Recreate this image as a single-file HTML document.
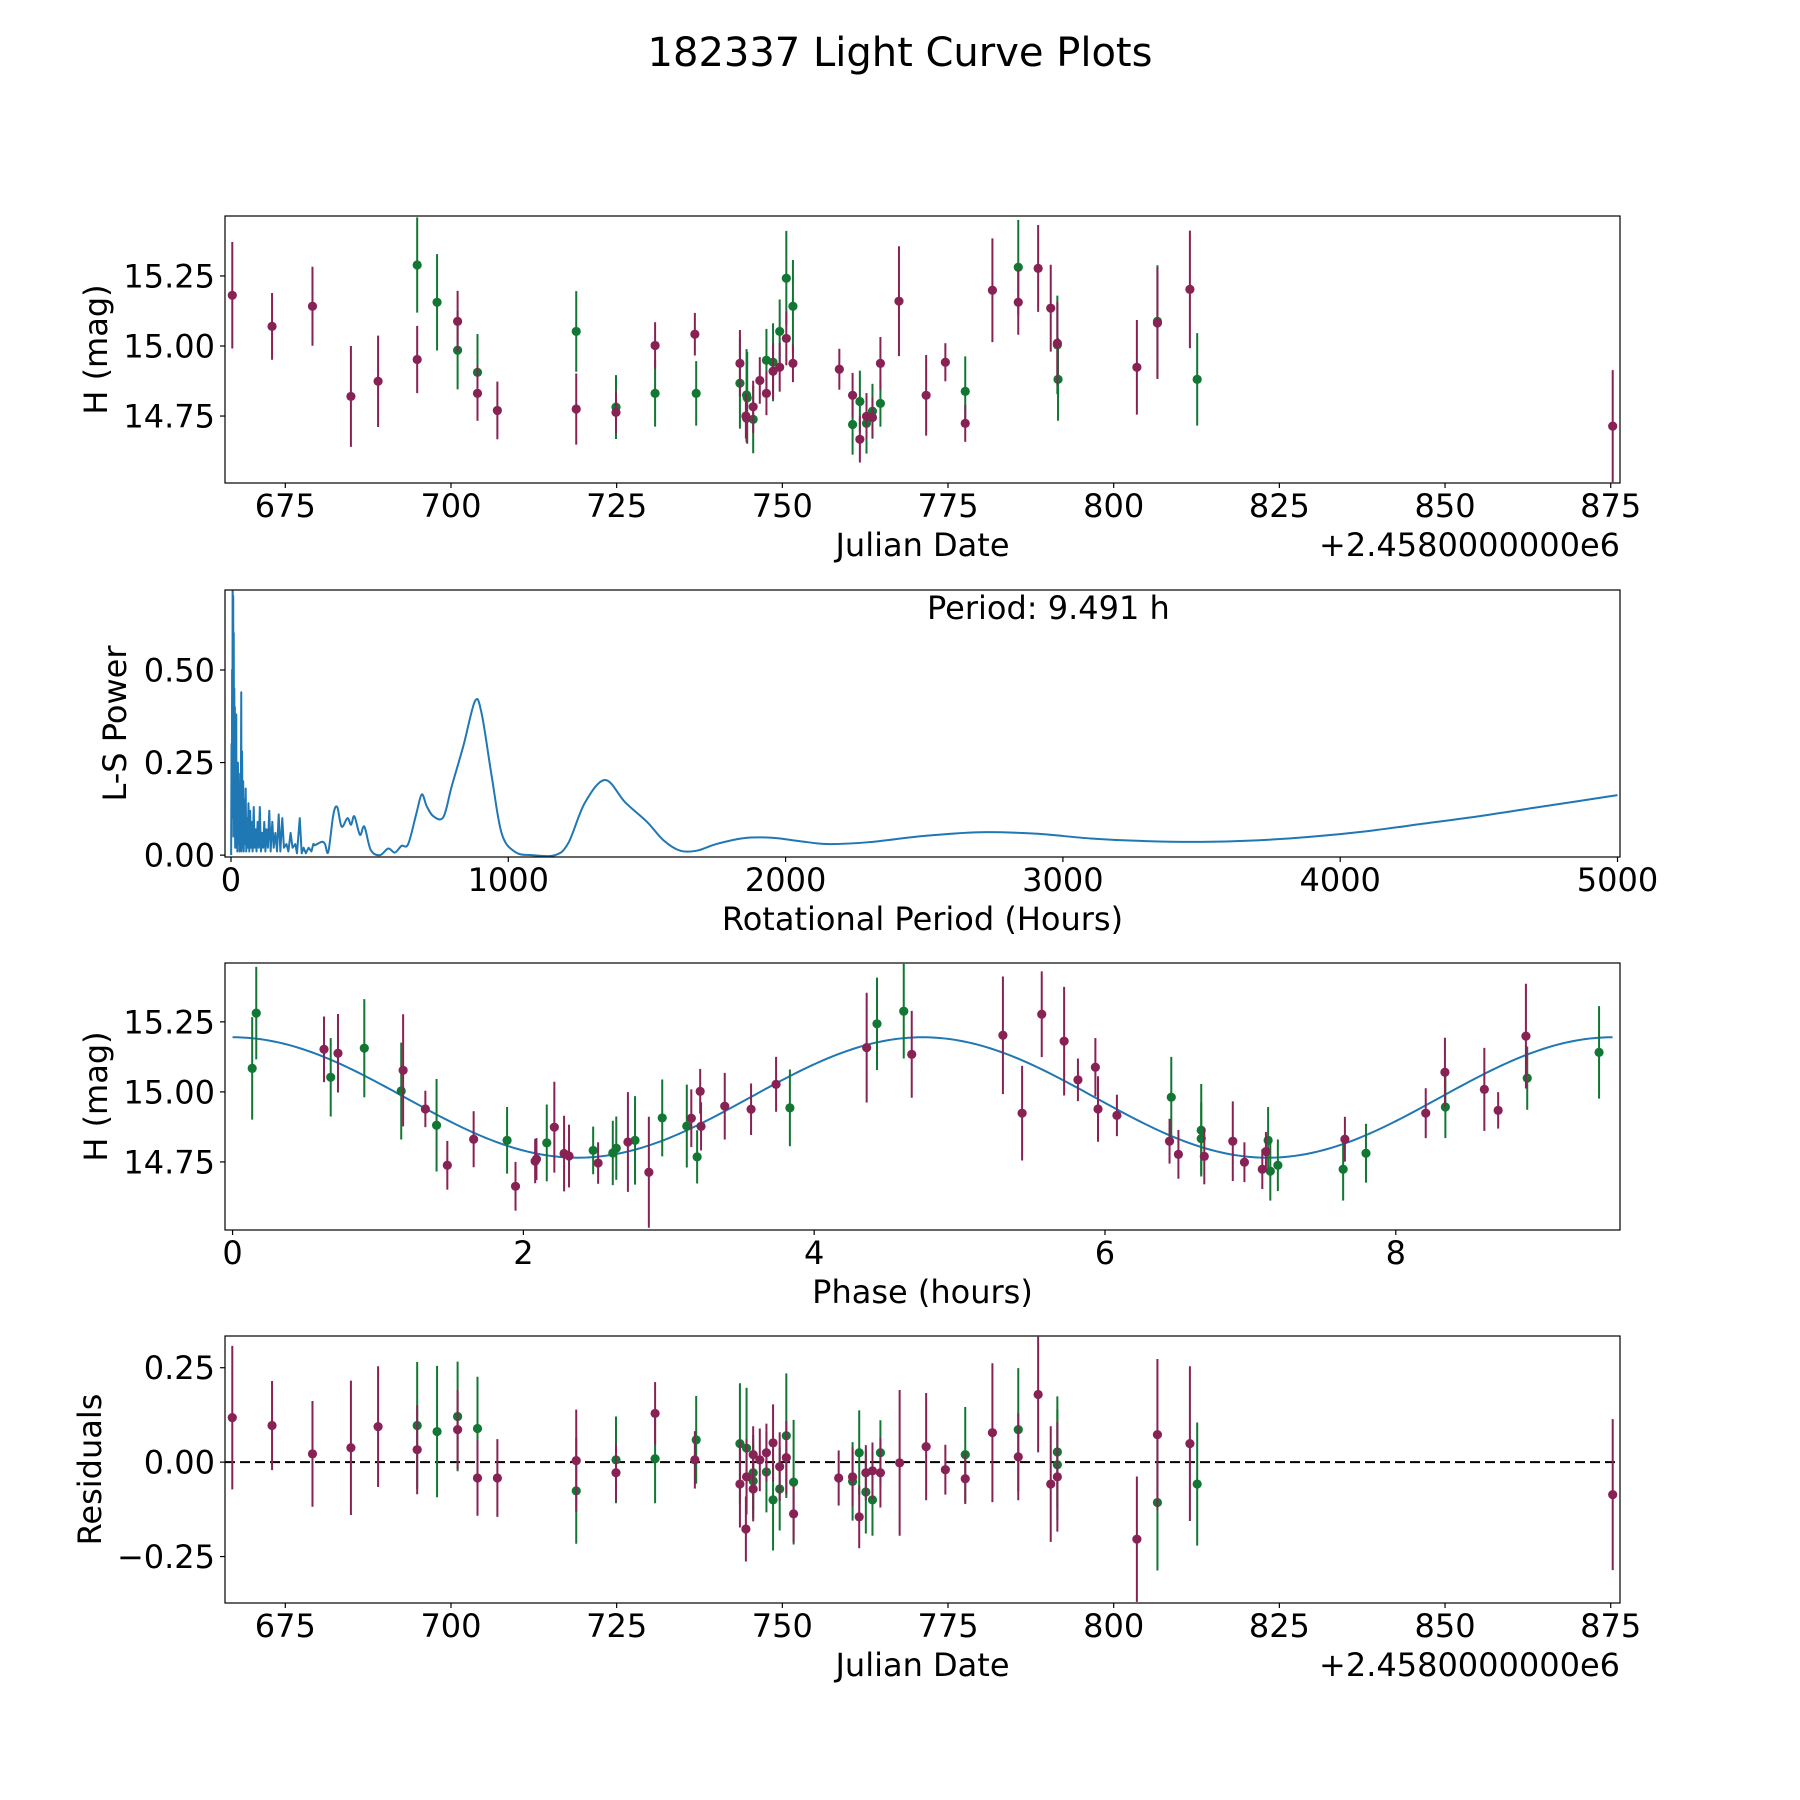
<!DOCTYPE html>
<html><head><meta charset="utf-8"><title>182337 Light Curve Plots</title>
<style>
html,body{margin:0;padding:0;background:#fff;}
svg{display:block;font-family:"DejaVu Sans","Liberation Sans",sans-serif;}
</style></head>
<body>
<svg id="fig" width="1800" height="1800" viewBox="0 0 1800 1800" xmlns="http://www.w3.org/2000/svg">
<rect width="1800" height="1800" fill="#fff"/>
<text x="900" y="66" font-size="40" text-anchor="middle">182337 Light Curve Plots</text>
</svg>
<script>
// ---------- Panel 1: light curve (JD offset, H mag, error, band) ----------
const p1Jd   = [667.0,673.0,679.1,684.9,689.0,694.9,694.9,697.9,701.0,701.0,704.0,704.0,707.0,718.9,718.9,724.9,724.9,730.8,730.8,736.8,737.0,743.6,743.6,744.6,744.7,744.6,744.5,745.6,745.6,746.6,747.6,747.6,748.6,748.6,749.6,749.6,750.6,750.6,751.6,751.6,758.6,760.6,760.6,761.7,761.7,762.7,762.7,763.6,763.6,764.8,764.8,767.6,771.7,774.6,777.6,777.6,781.7,785.6,785.6,788.6,790.5,791.5,791.5,791.6,803.5,806.6,806.6,811.5,812.6,875.3];
const p1Mag  = [15.181,15.07,15.142,14.82,14.874,15.289,14.952,15.156,15.088,14.985,14.906,14.831,14.77,15.052,14.775,14.782,14.763,15.002,14.831,15.042,14.831,14.938,14.867,14.825,14.815,14.742,14.75,14.783,14.738,14.877,14.949,14.831,14.942,14.91,15.052,14.924,15.242,15.027,15.142,14.938,14.917,14.824,14.72,14.802,14.667,14.749,14.724,14.767,14.745,14.938,14.795,15.16,14.824,14.942,14.838,14.724,15.199,15.281,15.156,15.277,15.135,15.004,15.01,14.881,14.924,15.088,15.082,15.202,14.881,14.714];
const p1Err  = [0.19,0.119,0.141,0.18,0.163,0.17,0.12,0.172,0.109,0.14,0.137,0.098,0.103,0.144,0.127,0.114,0.073,0.083,0.119,0.076,0.115,0.119,0.162,0.164,0.164,0.086,0.08,0.093,0.121,0.083,0.112,0.078,0.139,0.1,0.114,0.087,0.169,0.096,0.165,0.067,0.073,0.08,0.108,0.11,0.083,0.08,0.108,0.098,0.073,0.094,0.083,0.196,0.144,0.068,0.125,0.066,0.185,0.169,0.116,0.155,0.155,0.176,0.148,0.148,0.169,0.2,0.2,0.21,0.165,0.2];
const p1Band = ["m","m","m","m","m","g","m","g","m","g","g","m","m","g","m","g","m","m","g","m","g","m","g","g","g","m","m","m","g","m","g","m","g","m","g","m","g","m","g","m","m","m","g","g","m","m","g","g","m","m","g","m","m","m","g","m","m","g","m","m","m","g","m","g","m","g","m","m","g","m"];
const p1XTicks = [675,700,725,750,775,800,825,850,875];
const p1YTicks = [14.75,15.00,15.25];
const p1YTickLabels = ["14.75","15.00","15.25"];

// ---------- Panel 2: Lomb-Scargle periodogram ----------
const lsPeriod = [0.5,2,3,4,5,6,7,8,9,10,11,12,13,14,15,16,17,19,20,22,23,25,27,29,31,33,35,37,38,40,42,44,46,48,50,53,55,58,60,63,66,69,72,75,78,82,85,89,92,96,100,104,108,112,116,120,124,128,133,138,143,149,154,160,166,172,178,185,191,200,207,215,222,232,238,248,255,262,270,280,290,297,303,327,339,351,369,383,399,420,433,445,465,481,504,537,567,591,615,639,669,688,706,730,766,796,838,880,904,940,976,1024,1084,1168,1216,1276,1349,1421,1500,1560,1620,1680,1750,1850,1950,2050,2150,2300,2500,2700,2900,3100,3300,3500,3700,3900,4100,4300,4500,4700,4850,5000];
const lsPower  = [0,0.3,0.05,0.5,0.1,0.85,0.2,0.7,0.1,0.6,0.05,0.45,0.1,0.4,0.02,0.3,0.05,0.38,0.02,0.2,0.01,0.25,0.03,0.17,0.01,0.22,0.02,0.44,0.01,0.28,0.02,0.2,0.01,0.15,0.03,0.18,0.01,0.1,0.02,0.14,0.01,0.12,0.02,0.09,0.01,0.13,0.02,0.07,0.01,0.09,0.02,0.13,0.01,0.06,0.02,0.09,0.01,0.07,0.02,0.12,0.01,0.09,0.02,0.06,0.01,0.11,0.01,0.1,0.02,0.03,0.01,0.06,0.02,0.03,0.005,0.1,0.005,0.02,0.005,0.02,0.01,0.03,0.027,0.036,0.03,0.009,0.109,0.13,0.077,0.1,0.082,0.105,0.055,0.077,0.014,0,0.018,0.007,0.025,0.03,0.114,0.164,0.132,0.105,0.103,0.186,0.295,0.416,0.382,0.214,0.059,0.009,0,0,0.032,0.141,0.203,0.143,0.09,0.04,0.012,0.012,0.03,0.046,0.047,0.038,0.03,0.035,0.052,0.062,0.058,0.045,0.038,0.036,0.04,0.05,0.065,0.085,0.105,0.128,0.145,0.162];
const p2XTicks = [0,1000,2000,3000,4000,5000];
const p2YTicks = [0,0.25,0.5];
const p2YTickLabels = ["0.00","0.25","0.50"];

// ---------- Panel 3: phased light curve ----------
const p3Phase = [0.135,0.163,0.629,0.675,0.725,0.906,1.16,1.173,1.326,1.403,1.477,1.658,1.888,1.946,2.081,2.09,2.161,2.213,2.28,2.314,2.48,2.514,2.615,2.639,2.719,2.768,2.863,2.955,3.124,3.155,3.195,3.216,3.222,3.385,3.566,3.738,3.833,4.361,4.432,4.616,4.671,5.298,5.43,5.565,5.719,5.814,5.934,5.952,6.082,6.456,6.444,6.505,6.662,6.662,6.683,6.879,6.959,7.082,7.107,7.122,7.137,7.189,7.65,7.638,7.795,8.206,8.338,8.341,8.609,8.704,8.895,8.904,9.398];
const p3Mag   = [15.084,15.281,15.152,15.052,15.138,15.156,15.003,15.077,14.939,14.881,14.738,14.831,14.827,14.663,14.753,14.76,14.818,14.874,14.78,14.771,14.791,14.746,14.782,14.799,14.821,14.827,14.713,14.907,14.878,14.906,14.768,15.002,14.877,14.949,14.938,15.027,14.943,15.158,15.243,15.288,15.134,15.202,14.924,15.277,15.181,15.043,15.088,14.939,14.916,14.981,14.824,14.777,14.863,14.833,14.77,14.824,14.749,14.724,14.787,14.827,14.717,14.738,14.831,14.724,14.781,14.924,15.07,14.946,15.009,14.934,15.199,15.049,15.141];
const p3Err   = [0.183,0.165,0.117,0.14,0.14,0.175,0.173,0.2,0.065,0.165,0.087,0.1,0.119,0.087,0.079,0.075,0.137,0.162,0.135,0.112,0.085,0.074,0.115,0.113,0.178,0.158,0.198,0.137,0.148,0.103,0.095,0.08,0.086,0.119,0.092,0.098,0.137,0.196,0.165,0.169,0.155,0.21,0.169,0.153,0.194,0.076,0.104,0.117,0.074,0.144,0.08,0.087,0.165,0.129,0.1,0.142,0.071,0.071,0.07,0.119,0.105,0.092,0.08,0.112,0.105,0.089,0.123,0.111,0.148,0.065,0.187,0.113,0.165];
const p3Band  = ["g","g","m","g","m","g","g","m","m","g","m","m","g","m","m","m","g","m","m","m","g","m","g","g","m","g","m","g","g","m","g","m","m","m","m","m","g","m","g","g","m","m","m","m","m","m","m","m","m","g","m","m","g","g","m","m","m","m","m","g","g","g","m","g","g","m","m","g","m","m","m","g","g"];
const fitParams = [14.98, 0.215, 9.491]; // mean mag, amplitude, rotational period (h)
const p3XTicks = [0,2,4,6,8];
const p3YTicks = [14.75,15.00,15.25];
const p3YTickLabels = ["14.75","15.00","15.25"];

// ---------- Panel 4: residuals ----------
const p4Jd   = [667.0,673.0,679.1,684.9,689.0,694.9,694.9,697.9,701.0,701.0,704.0,704.0,707.0,718.9,718.9,724.9,724.9,730.8,730.8,737.0,736.8,743.6,743.6,744.6,744.6,744.5,745.6,745.6,745.6,745.6,746.6,747.6,747.6,748.6,748.6,749.6,749.6,750.6,750.6,751.7,751.7,758.5,760.6,760.6,761.6,761.6,762.6,762.6,763.6,763.6,764.8,764.8,767.7,771.7,774.6,777.6,777.6,781.7,785.6,785.6,788.6,790.5,791.5,791.5,791.5,803.5,806.6,806.6,811.5,812.6,875.3];
const p4Res  = [0.118,0.097,0.022,0.038,0.094,0.097,0.033,0.081,0.121,0.086,0.089,-0.042,-0.042,0.004,-0.076,0.006,-0.028,0.129,0.009,0.059,0.006,0.049,-0.058,0.037,-0.039,-0.177,0.02,-0.028,-0.05,-0.071,0.006,0.025,-0.026,0.051,-0.1,-0.012,-0.071,0.07,0.012,-0.053,-0.137,-0.042,-0.039,-0.051,0.025,-0.145,-0.028,-0.079,-0.023,-0.1,0.025,-0.028,-0.002,0.041,-0.02,0.02,-0.044,0.078,0.086,0.014,0.179,-0.058,0.027,-0.007,-0.039,-0.204,0.073,-0.107,0.049,-0.058,-0.086];
const p4Err  = [0.19,0.118,0.14,0.178,0.16,0.168,0.118,0.174,0.145,0.105,0.137,0.1,0.103,0.135,0.14,0.115,0.077,0.083,0.118,0.116,0.076,0.16,0.115,0.16,0.1,0.086,0.075,0.1,0.1,0.086,0.083,0.077,0.107,0.102,0.134,0.091,0.11,0.165,0.097,0.165,0.075,0.073,0.078,0.104,0.112,0.083,0.073,0.11,0.075,0.095,0.086,0.092,0.193,0.142,0.066,0.126,0.067,0.184,0.163,0.115,0.153,0.153,0.147,0.147,0.145,0.166,0.2,0.18,0.205,0.163,0.2];
const p4Band = ["m","m","m","m","m","g","m","g","g","m","g","m","m","m","g","g","m","m","g","g","m","g","m","g","m","m","m","g","g","m","m","m","g","m","g","m","g","g","m","g","m","m","m","g","g","m","m","g","m","g","g","m","m","m","m","g","m","m","g","m","m","m","g","g","m","m","m","g","m","g","m"];
const p4XTicks = [675,700,725,750,775,800,825,850,875];
const p4YTicks = [-0.25,0,0.25];
const p4YTickLabels = ["\u22120.25","0.00","0.25"];

const NS = "http://www.w3.org/2000/svg";
const svg = document.getElementById("fig");
const COL = {m:"#882255", g:"#117733"};
const L = 225, R = 1620;

function mk(tag, attrs, parent) {
  const e = document.createElementNS(NS, tag);
  for (const k in attrs) e.setAttribute(k, attrs[k]);
  (parent || svg).appendChild(e);
  return e;
}
function scale(d0, d1, p0, p1) { return v => p0 + (v - d0) / (d1 - d0) * (p1 - p0); }

function panel(name, top, bot, xr, yr) {
  const g = mk("g", {});
  
  
  const clipId = name + "-clip";
  const cp = mk("clipPath", {id: clipId}, g);
  mk("rect", {x: L, y: top, width: R - L, height: bot - top}, cp);
  const plot = mk("g", {"clip-path": "url(#" + clipId + ")"}, g);
  
  
  return {g, plot, top, bot, x: scale(xr[0], xr[1], L, R), y: scale(yr[0], yr[1], bot, top)};
}
function frame(p) {
  const f = mk("rect", {x: L, y: p.top, width: R - L, height: p.bot - p.top, fill: "none", stroke: "#000", "stroke-width": 1.2}, p.g);
  
  
}
function xTicks(p, ticks, labels) {
  ticks.forEach((t, i) => {
    const xx = p.x(t);
    const tl = mk("line", {x1: xx, x2: xx, y1: p.bot, y2: p.bot + 5, stroke: "#000", "stroke-width": 1.2}, p.g);
    
    
    const tx = mk("text", {x: xx, y: p.bot + 34, "font-size": 32, "text-anchor": "middle"}, p.g);
    tx.textContent = labels ? labels[i] : String(t);
    
    
  });
}
function yTicks(p, ticks, labels) {
  ticks.forEach((t, i) => {
    const yy = p.y(t);
    const tl = mk("line", {x1: L - 5, x2: L, y1: yy, y2: yy, stroke: "#000", "stroke-width": 1.2}, p.g);
    
    
    const tx = mk("text", {x: L - 10, y: yy + 11.5, "font-size": 32, "text-anchor": "end"}, p.g);
    tx.textContent = labels[i];
    
    
  });
}
function xLabel(p, txt, name) {
  const t = mk("text", {x: (L + R) / 2, y: p.bot + 73, "font-size": 32, "text-anchor": "middle"}, p.g);
  t.textContent = txt;
  
  
}
function yLabel(p, txt, cx, name) {
  const cy = (p.top + p.bot) / 2;
  const t = mk("text", {x: cx, y: cy, "font-size": 32, "text-anchor": "middle", "dominant-baseline": "central", transform: "rotate(-90 " + cx + " " + cy + ")"}, p.g);
  t.textContent = txt;
  
  
}
function offsetText(p) {
  const t = mk("text", {x: R, y: p.bot + 73, "font-size": 32, "text-anchor": "end"}, p.g);
  t.textContent = "+2.4580000000e6";
  
  
}
function errPoints(p, xs, ys, es, bands) {
  const order = [];
  xs.forEach((_, i) => { if (bands[i] === "g") order.push(i); });
  xs.forEach((_, i) => { if (bands[i] === "m") order.push(i); });
  order.forEach(i => {
    const c = COL[bands[i]];
    const xx = p.x(xs[i]);
    const bar = mk("line", {x1: xx, x2: xx, y1: p.y(ys[i] - es[i]), y2: p.y(ys[i] + es[i]), stroke: c, "stroke-width": 2}, p.plot);
    
    
    const dot = mk("circle", {cx: xx, cy: p.y(ys[i]), r: 4.6, fill: c}, p.plot);
    
    
  });
}

// Panel 1
const P1 = panel("light-curve-panel", 216, 483, [665.9, 876.4], [14.511, 15.464]);
errPoints(P1, p1Jd, p1Mag, p1Err, p1Band);
frame(P1); xTicks(P1, p1XTicks); yTicks(P1, p1YTicks, p1YTickLabels);
xLabel(P1, "Julian Date", "x-axis-title"); offsetText(P1); yLabel(P1, "H (mag)", 96, "y-axis-title");

// Panel 2
const P2 = panel("periodogram-panel", 590, 857, [-21.6, 5009], [-0.005, 0.716]);
const pts = lsPeriod.map((v, i) => [P2.x(v), P2.y(lsPower[i])]);
let d = "M" + pts[0][0].toFixed(2) + " " + pts[0][1].toFixed(2);
for (let i = 1; i < pts.length; i++) {
  if (lsPeriod[i] <= 297) {
    d += "L" + pts[i][0].toFixed(2) + " " + pts[i][1].toFixed(2);
  } else {
    const p0 = pts[i - 2] || pts[i - 1], p1 = pts[i - 1], p2 = pts[i], p3 = pts[i + 1] || pts[i];
    const c1x = p1[0] + (p2[0] - p0[0]) / 6, c1y = p1[1] + (p2[1] - p0[1]) / 6;
    const c2x = p2[0] - (p3[0] - p1[0]) / 6, c2y = p2[1] - (p3[1] - p1[1]) / 6;
    d += "C" + c1x.toFixed(2) + " " + c1y.toFixed(2) + " " + c2x.toFixed(2) + " " + c2y.toFixed(2) + " " + p2[0].toFixed(2) + " " + p2[1].toFixed(2);
  }
}
const ls = mk("path", {d: d, fill: "none", stroke: "#1f77b4", "stroke-width": 2, "stroke-linejoin": "round"}, P2.plot);


frame(P2); xTicks(P2, p2XTicks); yTicks(P2, p2YTicks, p2YTickLabels);
xLabel(P2, "Rotational Period (Hours)", "x-axis-title"); yLabel(P2, "L-S Power", 115, "y-axis-title");
const per = mk("text", {x: 927, y: 619, "font-size": 32}, P2.g);
per.textContent = "Period: 9.491 h";



// Panel 3
const P3 = panel("phase-panel", 963, 1230, [-0.052, 9.542], [14.507, 15.46]);
let d3 = "";
for (let k = 0; k <= 300; k++) {
  const ph = fitParams[2] * k / 300;
  const v = fitParams[0] + fitParams[1] * Math.cos(4 * Math.PI * ph / fitParams[2]);
  d3 += (k ? "L" : "M") + P3.x(ph).toFixed(2) + " " + P3.y(v).toFixed(2);
}
const fit = mk("path", {d: d3, fill: "none", stroke: "#1f77b4", "stroke-width": 2}, P3.plot);


errPoints(P3, p3Phase, p3Mag, p3Err, p3Band);
frame(P3); xTicks(P3, p3XTicks); yTicks(P3, p3YTicks, p3YTickLabels);
xLabel(P3, "Phase (hours)", "x-axis-title"); yLabel(P3, "H (mag)", 96, "y-axis-title");

// Panel 4
const P4 = panel("residuals-panel", 1336, 1603, [665.9, 876.4], [-0.373, 0.334]);
const zl = mk("line", {x1: L, x2: R, y1: P4.y(0), y2: P4.y(0), stroke: "#000", "stroke-width": 2, "stroke-dasharray": "10 5"}, P4.plot);


errPoints(P4, p4Jd, p4Res, p4Err, p4Band);
frame(P4); xTicks(P4, p4XTicks); yTicks(P4, p4YTicks, p4YTickLabels);
xLabel(P4, "Julian Date", "x-axis-title"); offsetText(P4); yLabel(P4, "Residuals", 90, "y-axis-title");
</script>
</body></html>
